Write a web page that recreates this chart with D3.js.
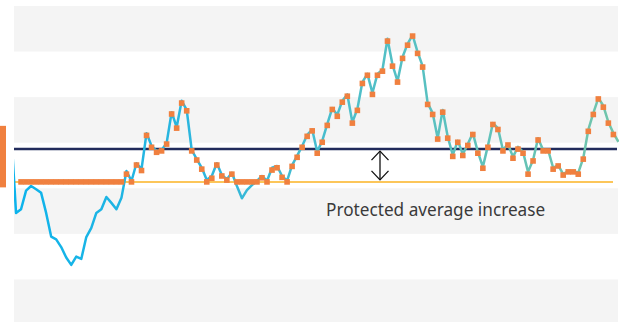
<!DOCTYPE html>
<html>
<head>
<meta charset="utf-8">
<script src="https://cdn.jsdelivr.net/npm/d3@7"></script>
<style>
    body { margin: 0; background: #fff; }
    svg { display: block; }
</style>
</head>
<body>
<svg id="chart" width="619" height="322"></svg>
<script>
"use strict";

// Daily value (blue/teal line), one entry per step
const averageSeries = [
    43.1, 24.6, 25.4, 29.5, 30.5, 29.8, 29.0, 24.6, 19.4, 18.8,
    17.1, 14.8, 13.2, 15.0, 14.5, 19.3, 21.3, 24.6, 25.4, 28.1,
    26.8, 25.4, 27.9, 33.8, 31.6, 35.5, 34.2, 42.1, 39.3, 38.2,
    38.4, 39.9, 46.7, 43.4, 49.2, 47.2, 38.4, 36.4, 34.5, 31.8,
    32.7, 35.5, 32.9, 32.0, 33.4, 30.5, 27.8, 29.6, 30.7, 31.6,
    32.7, 31.6, 34.5, 34.9, 32.7, 31.6, 35.1, 37.1, 39.3, 41.7,
    42.9, 38.0, 40.4, 44.1, 47.6, 46.1, 49.2, 50.6, 44.5, 47.4,
    53.3, 55.1, 50.9, 55.1, 56.0, 62.8, 57.1, 53.5, 58.8, 61.7,
    63.6, 59.9, 56.8, 48.7, 46.5, 41.0, 47.2, 41.3, 37.3, 40.4,
    37.5, 39.7, 42.1, 38.0, 34.7, 39.3, 44.3, 43.2, 38.4, 39.7,
    36.9, 39.1, 38.0, 33.6, 36.2, 41.0, 38.4, 38.4, 34.5, 35.1,
    33.1, 33.8, 33.8, 33.4, 36.6, 42.8, 46.5, 49.8, 48.1, 44.5,
    42.1, 40.2
];

// Protected value (orange squares); null where no square is drawn
const protectedSeries = [
    null, null, 31.4, 31.4, 31.4, 31.4, 31.4, 31.4, 31.4, 31.4,
    31.4, 31.4, 31.4, 31.4, 31.4, 31.4, 31.4, 31.4, 31.4, 31.4,
    31.4, 31.4, 31.4, 33.1, 31.4, 35.1, 33.9, 41.6, 39.0, 37.9,
    38.2, 39.7, 46.3, 43.2, 48.7, 47.0, 38.2, 36.2, 34.2, 31.4,
    32.2, 35.1, 32.7, 31.8, 33.1, 31.4, 31.4, 31.4, 31.4, 31.4,
    32.3, 31.4, 34.0, 34.5, 32.4, 31.4, 34.8, 36.8, 39.0, 41.4,
    42.6, 37.7, 40.1, 43.8, 47.3, 45.8, 48.9, 50.2, 44.3, 47.1,
    53.0, 54.8, 50.6, 54.8, 55.7, 62.3, 56.8, 53.3, 58.5, 61.4,
    63.4, 59.6, 56.6, 48.4, 46.2, 40.8, 46.7, 41.0, 37.0, 40.1,
    37.2, 39.4, 41.8, 37.7, 34.4, 39.0, 44.0, 42.9, 38.2, 39.5,
    36.6, 38.6, 37.7, 33.1, 36.0, 40.6, 38.2, 38.2, 34.2, 34.9,
    32.9, 33.6, 33.6, 33.1, 36.4, 42.5, 46.2, 49.6, 47.8, 44.3,
    41.8, null
];

const bandEdges = [0, 10, 20, 30, 40, 50, 60, 70];
const averageLevel = 38.6;
const protectedLevel = 31.4;
const sideMarker = [30.2, 43.7];
const annotationText = "Protected average increase";

const width = 619, height = 322;
const plotLeft = 14, plotRight = 618;

const svg = d3.select("#chart");

const x = d3.scaleLinear()
    .domain([0, averageSeries.length - 1])
    .range([11, 618.4]);

const y = d3.scaleLinear()
    .domain([0, 70])
    .range([325, 6]);

// line colour fades from blue to green-teal
const grad = svg.append("defs").append("linearGradient")
    .attr("id", "lineGrad")
    .attr("gradientUnits", "userSpaceOnUse")
    .attr("x1", plotLeft).attr("x2", width)
    .attr("y1", 0).attr("y2", 0);
grad.append("stop").attr("offset", "0%").attr("stop-color", "#0cb3ec");
grad.append("stop").attr("offset", "32%").attr("stop-color", "#2fb6dc");
grad.append("stop").attr("offset", "58%").attr("stop-color", "#50bfc8");
grad.append("stop").attr("offset", "100%").attr("stop-color", "#72c5ab");

svg.select("defs").append("clipPath")
    .attr("id", "plotClip")
    .append("rect")
    .attr("x", plotLeft).attr("y", 0)
    .attr("width", width - plotLeft).attr("height", height);

// alternating gray bands
const bands = [];
for (let k = 0; k < bandEdges.length - 1; k += 2) {
    bands.push([bandEdges[k], bandEdges[k + 1]]);
}
svg.append("g").selectAll("rect")
    .data(bands)
    .enter().append("rect")
    .attr("x", plotLeft)
    .attr("width", plotRight - plotLeft)
    .attr("y", d => y(d[1]))
    .attr("height", d => y(d[0]) - y(d[1]))
    .attr("fill", "#f4f4f4");

// reference levels
svg.append("line")
    .attr("x1", plotLeft).attr("x2", 617)
    .attr("y1", y(averageLevel)).attr("y2", y(averageLevel))
    .attr("stroke", "#222c5c")
    .attr("stroke-width", 2.5);

svg.append("line")
    .attr("x1", 15).attr("x2", 613)
    .attr("y1", y(protectedLevel)).attr("y2", y(protectedLevel))
    .attr("stroke", "#fcc65a")
    .attr("stroke-width", 2);

const line = d3.line()
    .x((d, i) => x(i))
    .y(d => y(d));

svg.append("path")
    .datum(averageSeries)
    .attr("clip-path", "url(#plotClip)")
    .attr("fill", "none")
    .attr("stroke", "url(#lineGrad)")
    .attr("stroke-width", 2.5)
    .attr("stroke-linejoin", "round")
    .attr("d", line);

const sq = 5.6;
svg.append("g").selectAll("rect")
    .data(protectedSeries.map((v, i) => ({i: i, v: v})).filter(d => d.v !== null))
    .enter().append("rect")
    .attr("x", d => x(d.i) - sq / 2)
    .attr("y", d => y(d.v) - sq / 2)
    .attr("width", sq)
    .attr("height", sq)
    .attr("fill", "#f0803f");

// side marker on the left edge
svg.append("rect")
    .attr("x", 0).attr("width", 6)
    .attr("y", y(sideMarker[1]))
    .attr("height", y(sideMarker[0]) - y(sideMarker[1]))
    .attr("fill", "#f0803f");

// double headed arrow between the two levels
const ax = 380;
const yTop = y(averageLevel) + 2;
const yBot = y(protectedLevel) - 2;
const arrow = svg.append("g")
    .attr("fill", "none")
    .attr("stroke", "#111")
    .attr("stroke-width", 1.3);
arrow.append("line").attr("x1", ax).attr("x2", ax).attr("y1", yTop).attr("y2", yBot);
arrow.append("path").attr("d", `M${ax - 8.5},${yTop + 9} L${ax},${yTop} L${ax + 8.5},${yTop + 9}`);
arrow.append("path").attr("d", `M${ax - 8.5},${yBot - 9} L${ax},${yBot} L${ax + 8.5},${yBot - 9}`);

svg.append("text")
    .attr("x", 326)
    .attr("y", 216)
    .attr("font-family", "'Noto Sans', sans-serif")
    .attr("font-size", 17.2)
    .attr("fill", "#3a3a3a")
    .text(annotationText);
</script>
</body>
</html>
